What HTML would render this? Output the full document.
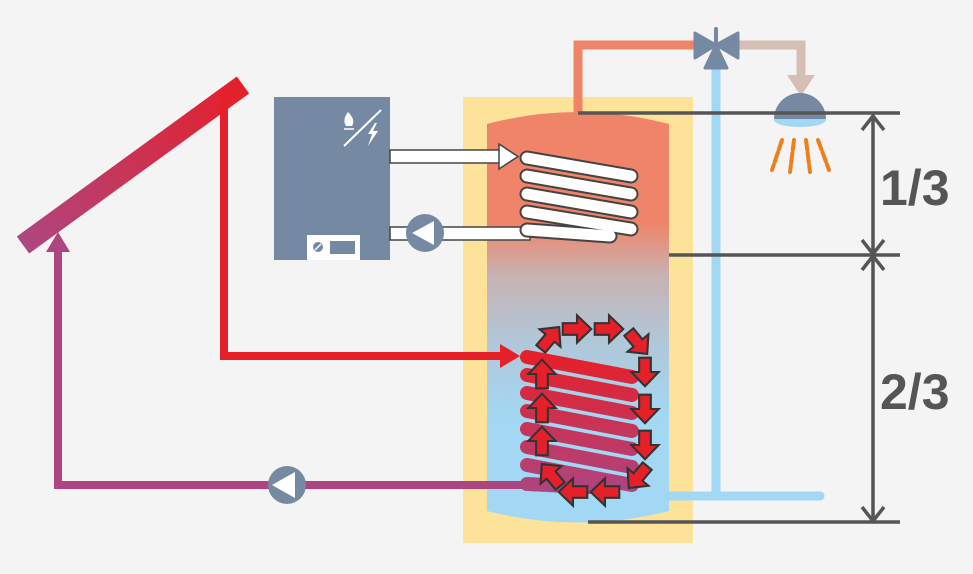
<!DOCTYPE html>
<html><head><meta charset="utf-8"><style>
html,body{margin:0;padding:0;background:#f4f4f4;}
svg{display:block;}
</style></head><body>
<svg width="973" height="574" viewBox="0 0 973 574" xmlns="http://www.w3.org/2000/svg">
<defs>
<linearGradient id="tank" x1="0" y1="0" x2="0" y2="1" gradientUnits="objectBoundingBox">
<stop offset="0" stop-color="#f08468"/>
<stop offset="0.27" stop-color="#f08468"/>
<stop offset="0.40" stop-color="#c7b2b3"/>
<stop offset="0.55" stop-color="#b2c6d7"/>
<stop offset="0.75" stop-color="#a2d8f3"/>
<stop offset="1" stop-color="#a2d8f3"/>
</linearGradient>
<linearGradient id="coll" x1="23" y1="245" x2="243" y2="85" gradientUnits="userSpaceOnUse">
<stop offset="0" stop-color="#ae4680"/>
<stop offset="1" stop-color="#e52029"/>
</linearGradient>
<linearGradient id="coil" x1="0" y1="356" x2="0" y2="490" gradientUnits="userSpaceOnUse">
<stop offset="0" stop-color="#e52029"/>
<stop offset="1" stop-color="#ad4580"/>
</linearGradient>
<g id="ar"><polygon points="-11,-4.5 0,-4.5 0,-10.5 11,0 0,10.5 0,4.5 -11,4.5" fill="#e52029" stroke="#333" stroke-width="1.6" stroke-linejoin="miter" transform="scale(1.3)"/></g>
</defs>
<rect width="973" height="574" fill="#f4f4f4"/>
<rect x="463" y="97" width="230" height="446" fill="#fde39a"/>
<path d="M487,124 Q578,100 669,124 L669,511 Q578,534 487,511 Z" fill="url(#tank)"/>
<polyline points="578,112 578,45 696,45" fill="none" stroke="#f08468" stroke-width="9"/>
<polyline points="738,45 801,45 801,77" fill="none" stroke="#d5bfb5" stroke-width="9"/>
<polygon points="787,75 815,75 801,96" fill="#d5bfb5"/>
<polyline points="716,66 716,496 820,496" fill="none" stroke="#a2d8f3" stroke-width="9" stroke-linecap="round"/>
<line x1="669" y1="496" x2="716" y2="496" stroke="#a2d8f3" stroke-width="9"/>
<line x1="716" y1="29" x2="716" y2="46" stroke="#7689a3" stroke-width="4" stroke-linecap="round"/>
<polygon points="695,33 716,45 695,58" fill="#7689a3" stroke="#7689a3" stroke-width="3" stroke-linejoin="round"/>
<polygon points="738,33 716,45 738,58" fill="#7689a3" stroke="#7689a3" stroke-width="3" stroke-linejoin="round"/>
<polygon points="705,68 727,68 716,45" fill="#7689a3" stroke="#7689a3" stroke-width="3" stroke-linejoin="round"/>
<ellipse cx="800" cy="120" rx="26" ry="7" fill="#a2d8f3"/>
<path d="M774,119 A26,26 0 0 1 826,119 Z" fill="#7689a3"/>
<g stroke="#f07f1a" stroke-width="4" stroke-dasharray="10,3" stroke-linecap="round" fill="none">
<line x1="782" y1="140" x2="772" y2="170"/>
<line x1="794" y1="140" x2="790" y2="172"/>
<line x1="806" y1="140" x2="810" y2="172"/>
<line x1="818" y1="140" x2="829" y2="170"/>
</g>
<g stroke="#555" stroke-width="3.5">
<line x1="578" y1="113" x2="900" y2="113"/>
<line x1="669" y1="255" x2="900" y2="255"/>
<line x1="588" y1="522" x2="900" y2="522"/>
</g>
<g stroke="#555" stroke-width="3.5" fill="none">
<line x1="873" y1="116" x2="873" y2="252"/>
<line x1="873" y1="258" x2="873" y2="519"/>
<polyline points="862,130 873,116 884,130"/>
<polyline points="862,240 873,254 884,240"/>
<polyline points="862,270 873,256 884,270"/>
<polyline points="862,507 873,521 884,507"/>
</g>
<text x="880" y="205" font-family="Liberation Sans, sans-serif" font-weight="bold" font-size="50" fill="#555">1/3</text>
<text x="880" y="409" font-family="Liberation Sans, sans-serif" font-weight="bold" font-size="50" fill="#555">2/3</text>
<rect x="274" y="97" width="116" height="163" fill="#7689a3"/>
<rect x="307" y="235" width="53" height="25" fill="#fff"/>
<circle cx="318" cy="247" r="5" fill="#7689a3"/>
<line x1="315" y1="250" x2="321" y2="244" stroke="#fff" stroke-width="1.5"/>
<rect x="330" y="241" width="25" height="13" fill="#7689a3"/>
<line x1="344" y1="146" x2="381" y2="110" stroke="#fff" stroke-width="2"/>
<path d="M348,112 Q342,120 346,126 L352,126 Q356,120 348,112 Z" fill="#fff"/>
<line x1="344" y1="129" x2="354" y2="129" stroke="#fff" stroke-width="1.5"/>
<polygon points="375,123 368,134 372,134 368,146 378,131 373,131 377,123" fill="#fff"/>
<rect x="390" y="150" width="112" height="13" fill="#fff" stroke="#444" stroke-width="1.5"/>
<polygon points="499,144 518,156.5 499,169" fill="#fff" stroke="#444" stroke-width="1.5"/>
<rect x="390" y="227" width="140" height="13" fill="#fff" stroke="#444" stroke-width="1.5"/>
<circle cx="425" cy="233" r="19" fill="#7689a3"/>
<polygon points="412,233 434,221 434,245" fill="#fff"/>
<g stroke-linecap="round">
<g stroke="#444" stroke-width="15">
<line x1="527" y1="158" x2="631" y2="176"/>
<line x1="527" y1="176" x2="631" y2="194"/>
<line x1="527" y1="194" x2="631" y2="212"/>
<line x1="527" y1="212" x2="631" y2="229"/>
<line x1="527" y1="230" x2="610" y2="236"/>
</g>
<g stroke="#fff" stroke-width="11">
<line x1="527" y1="158" x2="631" y2="176"/>
<line x1="527" y1="176" x2="631" y2="194"/>
<line x1="527" y1="194" x2="631" y2="212"/>
<line x1="527" y1="212" x2="631" y2="229"/>
<line x1="527" y1="230" x2="610" y2="236"/>
</g>
</g>
<line x1="23" y1="245" x2="243" y2="85" stroke="url(#coll)" stroke-width="21"/>
<polyline points="224,92 224,356 502,356" fill="none" stroke="#e52029" stroke-width="8"/>
<polygon points="500,344 520,356 500,368" fill="#e52029"/>
<polyline points="530,485 58,485 58,250" fill="none" stroke="#ad4580" stroke-width="8"/>
<polygon points="46,252 58,232 70,252" fill="#ad4580"/>
<circle cx="287" cy="485" r="19" fill="#7689a3"/>
<polygon points="272,485 295,472 295,498" fill="#fff"/>
<g stroke="url(#coil)" stroke-width="14" stroke-linecap="round">
<line x1="527" y1="357" x2="632" y2="377"/>
<line x1="527" y1="375" x2="632" y2="395"/>
<line x1="527" y1="393" x2="632" y2="413"/>
<line x1="527" y1="411" x2="632" y2="431"/>
<line x1="527" y1="429" x2="632" y2="449"/>
<line x1="527" y1="447" x2="632" y2="467"/>
<line x1="527" y1="465" x2="632" y2="485"/>
<line x1="527" y1="484" x2="610" y2="488"/>
</g>
<use href="#ar" transform="translate(542,441) rotate(-90)"/>
<use href="#ar" transform="translate(542,408) rotate(-90)"/>
<use href="#ar" transform="translate(542,374) rotate(-90)"/>
<use href="#ar" transform="translate(550,338) rotate(-50)"/>
<use href="#ar" transform="translate(577,329)"/>
<use href="#ar" transform="translate(609,329)"/>
<use href="#ar" transform="translate(638,343) rotate(50)"/>
<use href="#ar" transform="translate(645,372) rotate(90)"/>
<use href="#ar" transform="translate(645,409) rotate(90)"/>
<use href="#ar" transform="translate(645,445) rotate(90)"/>
<use href="#ar" transform="translate(638,477) rotate(130)"/>
<use href="#ar" transform="translate(605,492) rotate(180)"/>
<use href="#ar" transform="translate(573,492) rotate(180)"/>
<use href="#ar" transform="translate(551,475) rotate(-130)"/>
</svg>
</body></html>
